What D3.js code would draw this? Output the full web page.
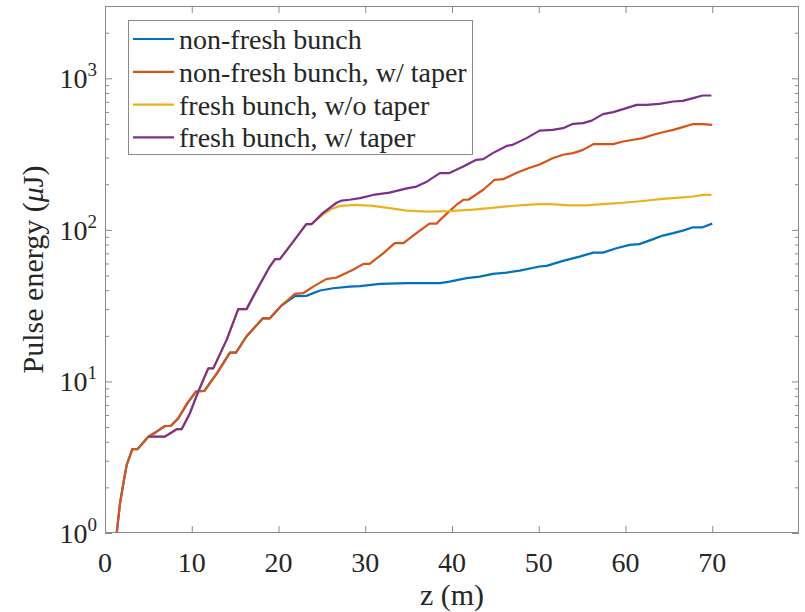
<!DOCTYPE html>
<html>
<head>
<meta charset="utf-8">
<script src="https://cdn.jsdelivr.net/npm/d3@7"></script>
<style>
  body { margin: 0; background: #fff; }
  svg { display: block; }
</style>
</head>
<body>
<svg id="chart" width="805" height="612"></svg>
<script>
// Pulse energy along the undulator, z in metres, energy in microjoules.
const seriesNames = [
  "non-fresh bunch",
  "non-fresh bunch, w/ taper",
  "fresh bunch, w/o taper",
  "fresh bunch, w/ taper"
];
const seriesColors = ["#0072BD", "#D95319", "#EDB120", "#7E2F8E"];

const nonFresh = [
  [1.35,1.0],[1.73,1.57],[2.19,2.24],[2.5,2.81],[3.15,3.58],[3.76,3.58],[4.99,4.32],
  [5.95,4.66],[6.91,5.08],[7.57,5.08],[8.45,5.72],[9.5,7.2],[10.5,8.6],[11.45,8.65],
  [12.9,11.3],[14.4,15.5],[15.1,15.5],[16.3,19.8],[18.2,26.1],[19.0,26.1],[20.3,31.5],
  [21.9,36.5],[23.2,36.7],[24.8,39.8],[26.3,41.2],[28.2,42.2],[29.4,42.6],[31.7,44.0],
  [34.8,44.5],[38.6,44.5],[39.7,45.6],[41.7,48.0],[43.2,49.2],[44.7,51.3],[46.3,52.3],
  [47.8,53.9],[50.1,57.3],[50.9,57.9],[52.8,62.4],[54.7,66.6],[56.3,70.8],[57.4,70.8],
  [58.95,75.7],[60.5,79.6],[61.6,80.5],[63.2,86.9],[64.3,91.7],[65.5,95.1],[66.6,98.9],
  [67.8,104],[68.9,104],[70.0,110]
];

const nonFreshTaper = [
  [1.35,1.0],[1.73,1.57],[2.19,2.24],[2.5,2.81],[3.15,3.58],[3.76,3.58],[4.99,4.32],
  [5.95,4.66],[6.91,5.08],[7.57,5.08],[8.45,5.72],[9.5,7.2],[10.5,8.6],[11.45,8.65],
  [12.9,11.3],[14.4,15.5],[15.1,15.5],[16.3,19.8],[18.2,26.1],[19.0,26.1],[20.3,31.5],
  [21.9,37.8],[22.85,38.2],[24.0,42.2],[25.5,47.3],[26.7,48.5],[28.6,54.5],[29.8,59.7],
  [30.5,59.7],[32.1,70.2],[33.4,81.7],[34.4,81.7],[35.9,95.1],[37.4,110],[38.2,110],
  [39.4,128],[40.5,146],[41.3,158],[41.9,158],[43.6,184],[44.9,214],[45.9,216],
  [47.4,237],[48.8,255],[50.1,270],[51.6,297],[52.8,313],[53.95,321],[55.1,337],
  [56.3,368],[57.2,368],[58.6,368],[59.7,383],[60.9,393],[62.0,403],[63.2,424],
  [64.3,441],[65.5,457],[66.6,476],[67.8,499],[68.9,499],[70.0,493]
];

const freshNoTaper = [
  [5.0,4.32],[6.9,4.32],[8.26,4.84],[8.83,4.84],[9.79,6.17],[10.75,8.57],[11.9,12.2],
  [12.48,12.2],[14.02,18.8],[15.36,30.0],[16.32,30.0],[17.7,42.2],[19.0,57.3],[19.6,64.1],
  [20.16,64.1],[21.7,83.7],[23.2,109],[23.8,109],[25.1,126],[26.2,138],[27.1,144],
  [29.0,146],[30.9,144],[32.8,139],[34.8,134],[37.1,132],[39.7,133],[42.4,136],
  [44.3,139],[46.3,143],[48.6,146],[50.1,148],[51.3,148],[53.6,145],[55.5,145],
  [57.4,148],[59.7,151],[62.0,155],[64.3,160],[66.2,163],[67.8,166],[68.9,170],[69.9,170]
];

const freshTaper = [
  [5.0,4.32],[6.9,4.32],[8.26,4.84],[8.83,4.84],[9.79,6.17],[10.75,8.57],[11.9,12.2],
  [12.48,12.2],[14.02,18.8],[15.36,30.0],[16.32,30.0],[17.7,42.2],[19.0,57.3],[19.6,64.1],
  [20.16,64.1],[21.7,83.7],[23.2,109],[23.8,109],[25.1,129],[26.7,151],[27.3,156],
  [28.2,158],[29.4,162],[30.9,170],[32.8,176],[34.8,188],[35.9,193],[37.1,208],
  [38.6,237],[39.7,237],[41.3,262],[42.8,290],[43.6,293],[44.7,321],[46.3,358],
  [47.0,364],[48.6,403],[50.1,452],[51.6,457],[52.8,469],[53.95,501],[55.1,506],
  [56.1,526],[57.4,580],[58.6,598],[60.1,636],[61.3,668],[62.4,668],[63.9,679],
  [65.5,703],[66.6,710],[67.8,740],[68.9,770],[69.9,770]
];

const xTicks = [0, 10, 20, 30, 40, 50, 60, 70];
const yExponents = [0, 1, 2, 3];

const series = [nonFresh, nonFreshTaper, freshNoTaper, freshTaper];

const svg = d3.select("#chart");
const font = "'Liberation Serif', 'Times New Roman', serif";
const axisColor = "#8a8a8a";
const textColor = "#262626";

const plot = { left: 105, right: 799, top: 6, bottom: 533 };
const x = d3.scaleLinear().domain([0, 80]).range([plot.left, plot.right]);
const y = d3.scaleLog().domain([1, 3000]).range([plot.bottom, plot.top]);

// minor + major y tick values up to the top of the range
const yTickVals = [];
for (let e = 0; e <= 3; e++) {
  for (let m = 1; m <= 9; m++) {
    const v = m * Math.pow(10, e);
    if (v <= 3000) yTickVals.push(v);
  }
}
const isMajor = v => Math.abs(Math.log10(v) - Math.round(Math.log10(v))) < 1e-9;

const styleAxis = g => {
  g.select(".domain").remove();
  g.selectAll(".tick line").attr("stroke", axisColor).attr("stroke-width", 1);
  g.selectAll(".tick text").remove();
};

// bottom and top axes (ticks point inward)
svg.append("g").attr("transform", `translate(0,${plot.bottom})`)
  .call(d3.axisBottom(x).tickValues(xTicks).tickSize(-7).tickFormat(""))
  .call(styleAxis);
svg.append("g").attr("transform", `translate(0,${plot.top})`)
  .call(d3.axisTop(x).tickValues(xTicks).tickSize(-7).tickFormat(""))
  .call(styleAxis);

// left and right axes with log minor ticks
const leftAxis = svg.append("g").attr("transform", `translate(${plot.left},0)`)
  .call(d3.axisLeft(y).tickValues(yTickVals).tickSize(-7).tickFormat(""))
  .call(styleAxis);
leftAxis.selectAll(".tick line").attr("x2", d => isMajor(d) ? 7 : 4);
const rightAxis = svg.append("g").attr("transform", `translate(${plot.right},0)`)
  .call(d3.axisRight(y).tickValues(yTickVals).tickSize(-7).tickFormat(""))
  .call(styleAxis);
rightAxis.selectAll(".tick line").attr("x2", d => isMajor(d) ? -7 : -4);

// clip the curves to the plot area
svg.append("clipPath").attr("id", "plotClip")
  .append("rect")
  .attr("x", plot.left).attr("y", plot.top)
  .attr("width", plot.right - plot.left).attr("height", plot.bottom - plot.top);

const line = d3.line().x(d => x(d[0])).y(d => y(d[1]));
svg.append("g").attr("clip-path", "url(#plotClip)")
  .selectAll("path").data(series).join("path")
  .attr("d", line)
  .attr("fill", "none")
  .attr("stroke", (d, i) => seriesColors[i])
  .attr("stroke-width", 2.2)
  .attr("stroke-linejoin", "round");

// box
svg.append("rect")
  .attr("x", plot.left + 0.5).attr("y", plot.top + 0.5)
  .attr("width", plot.right - plot.left - 1).attr("height", plot.bottom - plot.top - 1)
  .attr("fill", "none").attr("stroke", axisColor).attr("stroke-width", 1);

// x tick labels
svg.append("g").selectAll("text").data(xTicks).join("text")
  .attr("x", d => x(d)).attr("y", plot.bottom + 39)
  .attr("text-anchor", "middle")
  .attr("font-family", font).attr("font-size", 28).attr("fill", textColor)
  .text(d => d);

// y tick labels as powers of ten
const yLabels = svg.append("g").selectAll("text").data(yExponents).join("text")
  .attr("x", plot.left - 8).attr("y", d => y(Math.pow(10, d)) + 10)
  .attr("text-anchor", "end")
  .attr("font-family", font).attr("font-size", 28).attr("fill", textColor);
yLabels.append("tspan").text("10");
yLabels.append("tspan").attr("dy", -12).attr("font-size", 19).text(d => d);

// axis titles
svg.append("text")
  .attr("x", (plot.left + plot.right) / 2).attr("y", 605)
  .attr("text-anchor", "middle")
  .attr("font-family", font).attr("font-size", 30).attr("fill", textColor)
  .text("z (m)");

const yTitle = svg.append("text")
  .attr("transform", `translate(43,${(plot.top + plot.bottom) / 2}) rotate(-90)`)
  .attr("text-anchor", "middle")
  .attr("font-family", font).attr("font-size", 30).attr("fill", textColor);
yTitle.append("tspan").text("Pulse energy (");
yTitle.append("tspan").attr("font-style", "italic").text("\u03bc");
yTitle.append("tspan").text("J)");

// legend
const legend = svg.append("g");
legend.append("rect")
  .attr("x", 128.5).attr("y", 20.5).attr("width", 344).attr("height", 134)
  .attr("fill", "#fff").attr("stroke", axisColor).attr("stroke-width", 1);
const rows = legend.selectAll("g.row").data(seriesNames).join("g")
  .attr("class", "row")
  .attr("transform", (d, i) => `translate(0,${39 + i * 32.8})`);
rows.append("line")
  .attr("x1", 133).attr("x2", 174).attr("y1", 0).attr("y2", 0)
  .attr("stroke", (d, i) => seriesColors[i]).attr("stroke-width", 2.2);
rows.append("text")
  .attr("x", 179).attr("y", 10)
  .attr("font-family", font).attr("font-size", 28).attr("fill", textColor)
  .text(d => d);
</script>
</body>
</html>
